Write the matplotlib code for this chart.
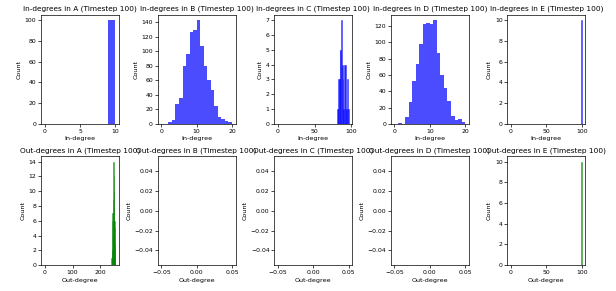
import numpy as np
import matplotlib
matplotlib.use("Agg")
from matplotlib import pyplot as plt

# histogram data: (first bin edge, last bin edge, counts of non-empty bins starting at start)
in_a_edges = (0, 10)
in_a_start = 9
in_a_counts = [100]

in_b_edges = (0, 20)
in_b_start = 2
in_b_counts = [3, 5, 28, 35, 80, 97, 127, 130, 143, 107, 80, 61, 47, 24, 10, 7, 4, 3]

in_c_edges = (0, 96)
in_c_start = 80
in_c_counts = [1, 1, 3, 3, 5, 5, 7, 4, 3, 1, 4, 4, 1, 1, 3, 1]

in_d_edges = (0, 20)
in_d_start = 1
in_d_counts = [1, 0, 8, 27, 53, 74, 98, 123, 124, 122, 127, 87, 60, 44, 28, 10, 5, 6, 2]

in_e_edges = (0, 100)
in_e_start = 99
in_e_counts = [10]

out_a_edges = (0, 255)
out_a_start = 240
out_a_counts = [1, 2, 2, 6, 7, 4, 9, 14, 12, 10, 8, 6, 5, 3, 2]

out_e_edges = (0, 100)
out_e_start = 99
out_e_counts = [10]

networks = ["A", "B", "C", "D", "E"]

in_data = {
    "A": (in_a_edges, in_a_start, in_a_counts),
    "B": (in_b_edges, in_b_start, in_b_counts),
    "C": (in_c_edges, in_c_start, in_c_counts),
    "D": (in_d_edges, in_d_start, in_d_counts),
    "E": (in_e_edges, in_e_start, in_e_counts),
}
out_data = {
    "A": (out_a_edges, out_a_start, out_a_counts),
    "B": None,
    "C": None,
    "D": None,
    "E": (out_e_edges, out_e_start, out_e_counts),
}

plt.rcParams["font.size"] = 5
plt.rcParams["axes.titlesize"] = 5.3
plt.rcParams["axes.labelsize"] = 4.6
plt.rcParams["xtick.labelsize"] = 4.4
plt.rcParams["ytick.labelsize"] = 4.4
plt.rcParams["axes.linewidth"] = 0.5
plt.rcParams["xtick.major.width"] = 0.5
plt.rcParams["ytick.major.width"] = 0.5
plt.rcParams["xtick.major.size"] = 2
plt.rcParams["ytick.major.size"] = 2
plt.rcParams["xtick.major.pad"] = 1.5
plt.rcParams["ytick.major.pad"] = 1.5
plt.rcParams["axes.labelpad"] = 2
plt.rcParams["axes.titlepad"] = 3


def draw_hist(ax, entry, color):
    if entry is None:
        ax.set_xlim(-0.055, 0.055)
        ax.set_ylim(-0.055, 0.055)
        return
    (lo, hi), start, counts = entry
    edges = np.arange(lo, hi + 1)
    centers = np.arange(start, start + len(counts)) + 0.5
    # many bins -> bars are sub-pixel, give them a thin edge so they stay visible
    lw = 0.4 if hi - lo >= 50 else 0
    ax.hist(centers, bins=edges, weights=counts, color=color, alpha=0.7,
            edgecolor=color, linewidth=lw)


fig, axes = plt.subplots(2, 5, figsize=(6.16, 2.91), dpi=100)
fig.subplots_adjust(left=0.067, right=0.95, top=0.948, bottom=0.089, wspace=0.5, hspace=0.30)

for i, name in enumerate(networks):
    ax = axes[0, i]
    draw_hist(ax, in_data[name], "blue")
    ax.set_title(f"In-degrees in {name} (Timestep 100)")
    ax.set_xlabel("In-degree")
    ax.set_ylabel("Count")

    ax = axes[1, i]
    draw_hist(ax, out_data[name], "green")
    ax.set_title(f"Out-degrees in {name} (Timestep 100)")
    ax.set_xlabel("Out-degree")
    ax.set_ylabel("Count")

fig.savefig("out.png", dpi=100)
